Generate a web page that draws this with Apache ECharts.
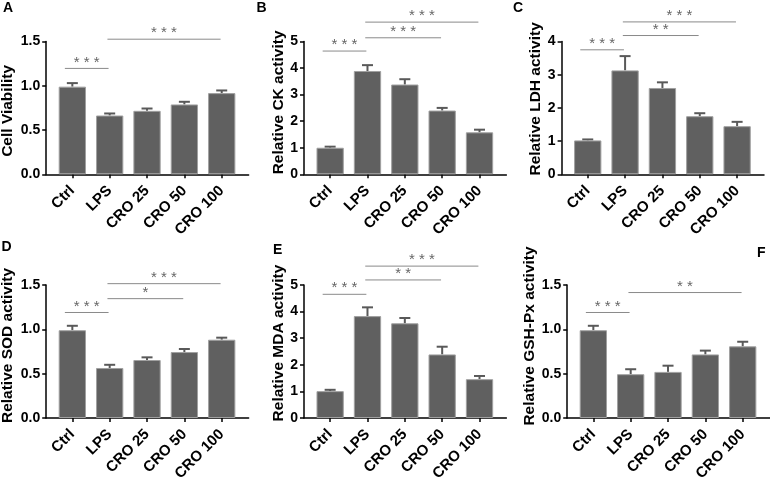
<!DOCTYPE html>
<html><head><meta charset="utf-8">
<script src="https://cdn.jsdelivr.net/npm/echarts@6/dist/echarts.min.js"></script>
<style>html,body{margin:0;padding:0;background:#fff}#c{width:770px;height:478px}</style>
</head><body><div id="c"></div>
<script>
// ---------- DATA ----------
const categories = ['Ctrl', 'LPS', 'CRO 25', 'CRO 50', 'CRO 100'];
const panelLetters = ['A', 'B', 'C', 'D', 'E', 'F'];
const axisNames = ['Cell Viability', 'Relative CK activity', 'Relative LDH activity',
                   'Relative SOD activity', 'Relative MDA activity', 'Relative GSH-Px activity'];
const yMaxes = [1.5, 5, 4, 1.5, 5, 1.5];
const yIntervals = [0.5, 1, 1, 0.5, 1, 0.5];

const meanA = [0.99, 0.664, 0.717, 0.789, 0.917];
const errA  = [0.04, 0.023, 0.026, 0.030, 0.030];
const sigA  = [[0, 1, 1.196, '***'], [1, 4, 1.526, '***']];

const meanB = [1.00, 3.89, 3.38, 2.40, 1.58];
const errB  = [0.04, 0.22, 0.20, 0.10, 0.10];
const sigB  = [[0, 1, 4.64, '***'], [1, 3, 5.14, '***'], [1, 4, 5.73, '***']];

const meanC = [1.02, 3.13, 2.60, 1.75, 1.45];
const errC  = [0.03, 0.43, 0.17, 0.09, 0.13];
const sigC  = [[0, 1, 3.75, '***'], [1, 3, 4.18, '**'], [1, 4, 4.59, '***']];

const meanD = [0.99, 0.564, 0.654, 0.744, 0.883];
const errD  = [0.05, 0.036, 0.030, 0.034, 0.023];
const sigD  = [[0, 1, 1.19, '***'], [1, 3, 1.346, '*'], [1, 4, 1.515, '***']];

const meanE = [1.01, 3.83, 3.56, 2.39, 1.46];
const errE  = [0.05, 0.33, 0.20, 0.29, 0.12];
const sigE  = [[0, 1, 4.65, '***'], [1, 3, 5.19, '**'], [1, 4, 5.71, '***']];

const meanF = [0.99, 0.494, 0.52, 0.717, 0.808];
const errF  = [0.05, 0.056, 0.07, 0.043, 0.052];
const sigF  = [[0, 1, 1.19, '***'], [1, 4, 1.415, '**']];

const means = [meanA, meanB, meanC, meanD, meanE, meanF];
const errs = [errA, errB, errC, errD, errE, errF];
const sigs = [sigA, sigB, sigC, sigD, sigE, sigF];

// ---------- LAYOUT ----------
const FONT = '"Liberation Sans", Arial, sans-serif';
const gridLefts = [46.2, 304, 561.6, 46.2, 304, 567.2];
const gridTops = [41.5, 41.5, 41.5, 285, 285, 285];
const gridH = [132.8, 132.8, 132.8, 133, 133, 133];
const gridW = 202.4;
const nameGaps = [30, 17, 16.5, 30, 17, 24];
const namePads = [[0, 6, 0, 0], [0, 0, 0, 11], [0, 0, 0, 18], [0, 0, 0, 12], [0, 0, 0, 17], [0, 0, 0, 31]];
const titlePos = [[3, 1.5], [256.5, 1.5], [513, 1.5], [1.5, 240], [273, 243.5], [757, 246]];
const X_MIN = -0.7, X_MAX = 4.72;
const BAR_COLOR = '#606060';
const ERR_COLOR = '#595959';

const idx = categories.map((c, i) => i);

function errRender(params, api) {
  const x = api.value(0), m = api.value(1), e = api.value(2);
  const p0 = api.coord([x, m]);
  const p1 = api.coord([x, m + e]);
  const hw = 5.5;
  return {
    type: 'group', children: [
      { type: 'line', shape: { x1: p0[0], y1: p0[1], x2: p1[0], y2: p1[1] }, style: { stroke: ERR_COLOR, lineWidth: 2 } },
      { type: 'line', shape: { x1: p1[0] - hw, y1: p1[1], x2: p1[0] + hw, y2: p1[1] }, style: { stroke: ERR_COLOR, lineWidth: 2 } }
    ]
  };
}

function makeSigRender(sig) {
  return function (params, api) {
    const s = sig[params.dataIndex];
    const x1 = s[0] + (s[0] === 0 ? -0.2 : -0.06);
    const x2 = s[1] - 0.03;
    const a = api.coord([x1, s[2]]);
    const b = api.coord([x2, s[2]]);
    return {
      type: 'group', children: [
        { type: 'line', shape: { x1: a[0], y1: a[1], x2: b[0], y2: b[1] }, style: { stroke: '#8a8a8a', lineWidth: 1 } },
        { type: 'text', style: { text: s[3].split('').join(' '), x: (a[0] + b[0]) / 2, y: a[1] - 6,
            align: 'center', verticalAlign: 'middle', fill: '#666', font: '15px ' + FONT } }
      ]
    };
  };
}

const grid = [], xAxis = [], yAxis = [], series = [], title = [];
for (let p = 0; p < 6; p++) {
  grid.push({ left: gridLefts[p], top: gridTops[p], width: gridW, height: gridH[p],
              containLabel: false, outerBoundsMode: 'none' });
  xAxis.push({
    type: 'value', gridIndex: p, min: X_MIN, max: X_MAX,
    splitLine: { show: false },
    axisLine: { show: true, onZero: false, lineStyle: { color: '#000', width: 1.5 } },
    axisTick: { show: true, customValues: idx, length: 4, lineStyle: { color: '#000', width: 1.5 } },
    axisLabel: { customValues: idx, rotate: 45, margin: 14, interval: 0,
                 formatter: v => categories[Math.round(v)] || '',
                 color: '#000', fontWeight: 'bold', fontSize: 15, fontFamily: FONT }
  });
  const dec = yIntervals[p] < 1 ? 1 : 0;
  yAxis.push({
    type: 'value', gridIndex: p, min: 0, max: yMaxes[p], interval: yIntervals[p],
    splitLine: { show: false },
    axisLine: { show: true, onZero: false, lineStyle: { color: '#000', width: 1.5 } },
    axisTick: { show: true, length: 4, lineStyle: { color: '#000', width: 1.5 } },
    axisLabel: { margin: 6, formatter: v => v.toFixed(dec), color: '#000', fontWeight: 'bold', fontSize: 14, fontFamily: FONT },
    name: axisNames[p], nameLocation: 'middle', nameGap: nameGaps[p],
    nameTextStyle: { color: '#000', fontWeight: 'bold', fontSize: 15.5, fontFamily: FONT, padding: namePads[p] }
  });
  series.push({
    type: 'bar', xAxisIndex: p, yAxisIndex: p, barWidth: 27.3,
    data: means[p].map((v, i) => [i, v]),
    itemStyle: { color: BAR_COLOR, borderColor: '#a0a0a0', borderWidth: 1 },
    silent: true, z: 2
  });
  series.push({
    type: 'custom', xAxisIndex: p, yAxisIndex: p, renderItem: errRender,
    data: means[p].map((v, i) => [i, v, errs[p][i]]),
    encode: { x: 0, y: 1 }, silent: true, z: 1, clip: false
  });
  series.push({
    type: 'custom', xAxisIndex: p, yAxisIndex: p, renderItem: makeSigRender(sigs[p]),
    data: sigs[p].map(s => [s[0], s[2]]),
    encode: { x: 0, y: 1 }, silent: true, z: 3, clip: false
  });
  title.push({ text: panelLetters[p], left: titlePos[p][0], top: titlePos[p][1], padding: 0,
               textStyle: { fontSize: 14, fontWeight: 'bold', fontFamily: FONT, color: '#000' } });
}

const chart = echarts.init(document.getElementById('c'), null, { renderer: 'canvas' });
chart.setOption({ animation: false, backgroundColor: '#fff', title, grid, xAxis, yAxis, series });
</script></body></html>
